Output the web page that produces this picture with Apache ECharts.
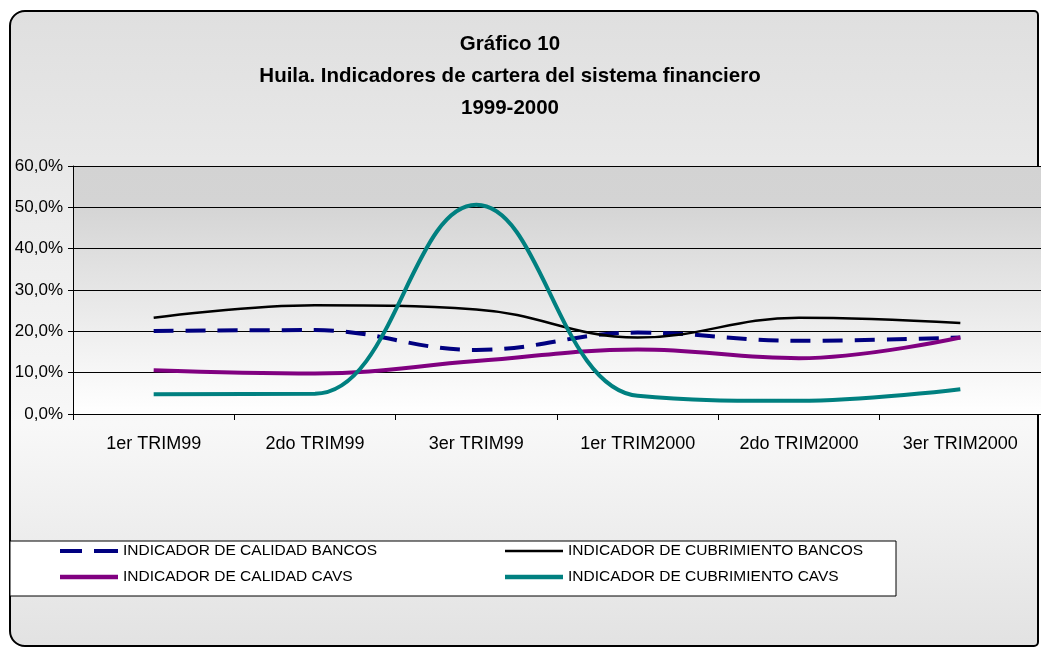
<!DOCTYPE html>
<html>
<head>
<meta charset="utf-8">
<script src="https://cdn.jsdelivr.net/npm/echarts@6/dist/echarts.min.js"></script>
<style>
  html, body { margin: 0; padding: 0; background: #fff; }
  #chart { width: 1041px; height: 648px; }
</style>
</head>
<body>
<div id="chart"></div>
<script>
// trimestres
const categories = ['1er TRIM99', '2do TRIM99', '3er TRIM99', '1er TRIM2000', '2do TRIM2000', '3er TRIM2000']
// valores en %
const calidadBancos = [20.1, 20.3, 15.5, 19.7, 17.7, 18.5]
const cubrimientoBancos = [23.3, 26.3, 25.3, 18.5, 23.3, 22.0]
const calidadCavs = [10.6, 9.8, 12.8, 15.6, 13.5, 18.5]
const cubrimientoCavs = [4.8, 4.9, 50.6, 4.4, 3.2, 6.0]
const yTicks = [0, 10, 20, 30, 40, 50, 60]

const font = '"Liberation Sans", Arial, sans-serif'

// iconos de la leyenda (linea discontinua / continua)
const iconDash = 'path://M0,0h22v4h-22zM34,0h24v4h-24z'
const iconThick = 'path://M0,0h58v4.5h-58z'
const iconThin = 'path://M0,0h58v2.5h-58z'

const chart = echarts.init(document.getElementById('chart'))

const legendBase = {
  orient: 'vertical',
  top: 541,
  padding: 0,
  itemWidth: 58,
  itemHeight: 20,
  itemGap: 6,
  textStyle: { fontFamily: font, fontSize: 15.5, lineHeight: 20, color: '#000' }
}

const option = {
  animation: false,
  title: {
    text: 'Gráfico 10\nHuila. Indicadores de cartera del sistema financiero\n1999-2000',
    left: 510,
    top: 28,
    padding: 0,
    textAlign: 'center',
    textStyle: {
      fontFamily: font,
      fontWeight: 'bold',
      fontSize: 20.5,
      lineHeight: 32,
      color: '#000'
    }
  },
  graphic: [
    {
      type: 'rect',
      z: -10,
      silent: true,
      shape: { x: 10, y: 11, width: 1028, height: 635, r: [15, 4, 4, 15] },
      style: {
        fill: {
          type: 'linear', x: 0, y: 0, x2: 0, y2: 1,
          colorStops: [
            { offset: 0, color: '#dfdfdf' },
            { offset: 0.65, color: '#f8f8f8' },
            { offset: 1, color: '#e2e2e2' }
          ]
        },
        stroke: '#000',
        lineWidth: 2
      }
    },
    {
      type: 'rect',
      z: 3,
      silent: true,
      shape: { x: 10, y: 541, width: 886, height: 55 },
      style: { fill: '#fff', stroke: '#000', lineWidth: 1 }
    }
  ],
  legend: [
    Object.assign({}, legendBase, {
      left: 60,
      data: [
        { name: 'INDICADOR DE CALIDAD BANCOS', icon: iconDash },
        { name: 'INDICADOR DE CALIDAD CAVS', icon: iconThick }
      ]
    }),
    Object.assign({}, legendBase, {
      left: 505,
      data: [
        { name: 'INDICADOR DE CUBRIMIENTO BANCOS', icon: iconThin },
        { name: 'INDICADOR DE CUBRIMIENTO CAVS', icon: iconThick }
      ]
    })
  ],
  grid: {
    left: 73,
    right: -11,
    top: 166,
    height: 248,
    show: true,
    borderWidth: 0,
    backgroundColor: new echarts.graphic.LinearGradient(0, 0, 0, 1, [
      { offset: 0, color: '#d3d3d3' },
      { offset: 0.15, color: '#d4d4d4' },
      { offset: 1, color: '#ffffff' }
    ])
  },
  xAxis: {
    type: 'category',
    data: categories,
    boundaryGap: true,
    axisLine: { lineStyle: { color: '#000', width: 1 } },
    axisTick: { show: true, length: 6, lineStyle: { color: '#000' } },
    axisLabel: { margin: 21, fontFamily: font, fontSize: 18, color: '#000' }
  },
  yAxis: {
    type: 'value',
    min: yTicks[0],
    max: yTicks[yTicks.length - 1],
    interval: 10,
    axisLine: { show: true, lineStyle: { color: '#000', width: 1 } },
    axisTick: { show: true, length: 5, lineStyle: { color: '#000' } },
    splitLine: { show: true, lineStyle: { color: '#000', width: 1 } },
    axisLabel: {
      margin: 10,
      fontFamily: font,
      fontSize: 17,
      color: '#000',
      formatter: v => v.toFixed(1).replace('.', ',') + '%'
    }
  },
  series: [
    {
      name: 'INDICADOR DE CALIDAD BANCOS',
      type: 'line',
      data: calidadBancos,
      smooth: 0.4,
      symbol: 'none',
      lineStyle: { color: '#000080', width: 4, type: [20, 12] },
      itemStyle: { color: '#000080' }
    },
    {
      name: 'INDICADOR DE CUBRIMIENTO BANCOS',
      type: 'line',
      data: cubrimientoBancos,
      smooth: 0.4,
      symbol: 'none',
      lineStyle: { color: '#000000', width: 2.5 },
      itemStyle: { color: '#000000' }
    },
    {
      name: 'INDICADOR DE CALIDAD CAVS',
      type: 'line',
      data: calidadCavs,
      smooth: 0.4,
      symbol: 'none',
      lineStyle: { color: '#800080', width: 4 },
      itemStyle: { color: '#800080' }
    },
    {
      name: 'INDICADOR DE CUBRIMIENTO CAVS',
      type: 'line',
      data: cubrimientoCavs,
      smooth: 0.4,
      symbol: 'none',
      lineStyle: { color: '#008080', width: 4 },
      itemStyle: { color: '#008080' }
    }
  ]
}

chart.setOption(option)
</script>
</body>
</html>
